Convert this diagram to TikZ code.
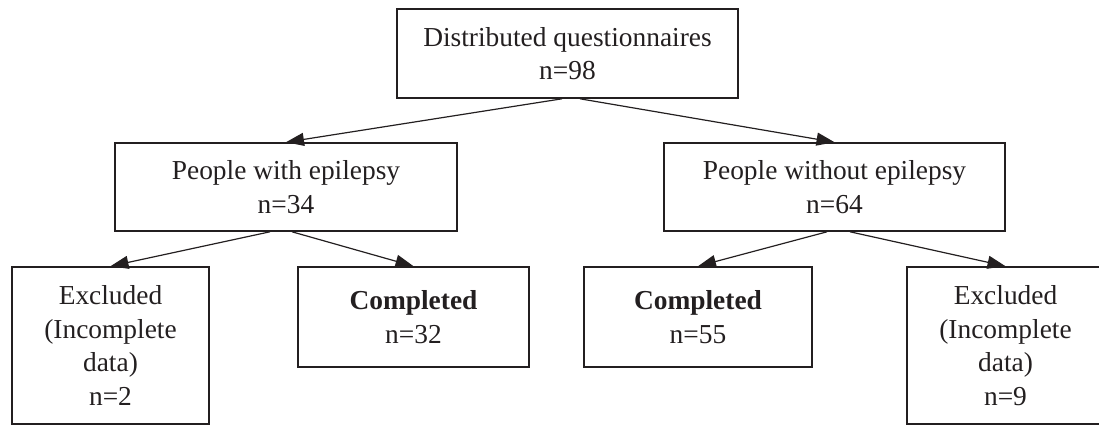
\documentclass[tikz,border=0pt]{standalone}
\usepackage{fontspec}
\setmainfont{Liberation Serif}
\usetikzlibrary{arrows.meta,calc}
\definecolor{ink}{RGB}{35,31,32}
\begin{document}
\begin{tikzpicture}[x=1pt,y=-1pt,
  box/.style={draw=ink, line width=1.6pt, text=ink, inner sep=0pt, align=center,
    font=\fontsize{27.4}{33.5}\selectfont},
  arr/.style={draw=ink, line width=1.2pt, -{Triangle[length=18pt,width=13pt]}}]
\useasboundingbox (0,0) rectangle (1099,425);
\node[box, minimum width=341pt, minimum height=89pt] (top) at (567.5,53.5) {Distributed questionnaires\\n=98};
\node[box, minimum width=342pt, minimum height=88pt] (with) at (286,187) {People with epilepsy\\n=34};
\node[box, minimum width=341pt, minimum height=88pt] (without) at (834.5,187) {People without epilepsy\\n=64};
\node[box, minimum width=197pt, minimum height=157pt] (exclL) at (110.5,345.5) {Excluded\\(Incomplete\\data)\\n=2};
\node[box, minimum width=231pt, minimum height=100pt] (compL) at (413.5,317) {\textbf{Completed}\\n=32};
\node[box, minimum width=228pt, minimum height=100pt] (compR) at (698,317) {\textbf{Completed}\\n=55};
\node[box, minimum width=197pt, minimum height=157pt] (exclR) at (1005.5,345.5) {Excluded\\(Incomplete\\data)\\n=9};
\draw[arr] ([xshift=-5.5pt]top.south) -- (with.north);
\draw[arr] ([xshift=12.5pt]top.south) -- (without.north);
\draw[arr] ([xshift=-16pt]with.south) -- (exclL.north);
\draw[arr] ([xshift=6pt]with.south) -- (compL.north);
\draw[arr] ([xshift=-7.5pt]without.south) -- (compR.north);
\draw[arr] ([xshift=15.5pt]without.south) -- (exclR.north);
\end{tikzpicture}
\end{document}
